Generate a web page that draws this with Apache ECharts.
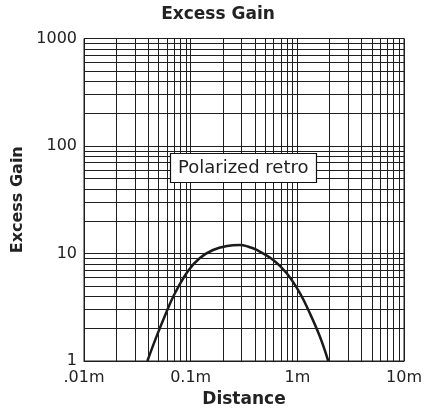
<!DOCTYPE html>
<html><head><meta charset="utf-8">
<script src="https://cdn.jsdelivr.net/npm/echarts@6/dist/echarts.min.js"></script>
<style>html,body{margin:0;padding:0;background:#fff}#c{width:436px;height:414px}</style>
</head><body><div id="c"></div>
<script>
const distances = [0.0393,0.0473,0.0575,0.0698,0.0944,0.122,0.162,0.219,0.29,0.344,0.416,0.595,0.795,1.06,1.31,1.63,1.95];
const gains     = [1,1.64,2.65,4.11,6.88,9.08,10.78,11.75,12.0,11.6,10.8,8.7,6.54,4.26,2.78,1.68,1];
const xTickLabels = ['.01m','0.1m','1m','10m'];
const yTickLabels = ['1','10','100','1000'];
const xDecades = [0.01,0.1,1];
const yDecades = [1,10,100];
const minorMultipliers = [2,3,4,5,6,7,8,9];

const FONT = 'DejaVu Sans';
const lineCol = '#1e1e1e';

const xMinor = [], yMinor = [];
xDecades.forEach(d => minorMultipliers.forEach(m => xMinor.push({xAxis: m*d})));
yDecades.forEach(d => minorMultipliers.forEach(m => yMinor.push({yAxis: m*d})));

const chart = echarts.init(document.getElementById('c'), null, {renderer:'canvas'});
chart.setOption({
  animation:false,
  backgroundColor:'#fff',
  title:[
    {text:'Excess Gain', left:'center', top:1,
     textStyle:{fontFamily:FONT, fontSize:17, fontWeight:'bold', color:'#222'}},
    {text:'Polarized retro', left:170, top:153, padding:[6,8],
     backgroundColor:'#fff', borderColor:'#111', borderWidth:1.2,
     textStyle:{fontFamily:FONT, fontSize:18, fontWeight:'normal', color:'#222', lineHeight:18}}
  ],
  grid:{left:84, right:32, top:38.5, bottom:53, show:true, borderColor:lineCol, borderWidth:1, backgroundColor:'#fff'},
  xAxis:{
    type:'log', logBase:10, min:0.01, max:10,
    name:'Distance', nameLocation:'middle', nameGap:28,
    nameTextStyle:{fontFamily:FONT, fontSize:17, fontWeight:'bold', color:'#222'},
    axisLine:{show:true, lineStyle:{color:lineCol, width:1}},
    axisTick:{show:false},
    axisLabel:{fontFamily:FONT, fontSize:16, color:'#222', margin:9,
      formatter:v => xTickLabels[Math.round(Math.log10(v))+2] || ''},
    splitLine:{show:true, lineStyle:{color:lineCol, width:1}},
    minorTick:{show:false}, minorSplitLine:{show:false}
  },
  yAxis:{
    type:'log', logBase:10, min:1, max:1000,
    name:'Excess Gain', nameLocation:'middle', nameGap:55,
    nameTextStyle:{fontFamily:FONT, fontSize:16, fontWeight:'bold', color:'#222'},
    axisLine:{show:true, lineStyle:{color:lineCol, width:1}},
    axisTick:{show:false},
    axisLabel:{fontFamily:FONT, fontSize:16, color:'#222', margin:7,
      formatter:v => yTickLabels[Math.round(Math.log10(v))] || ''},
    splitLine:{show:true, lineStyle:{color:lineCol, width:1}},
    minorTick:{show:false}, minorSplitLine:{show:false}
  },
  series:[
    {type:'line', name:'grid', data:[], z:1, silent:true,
     markLine:{silent:true, symbol:['none','none'], label:{show:false}, animation:false,
       lineStyle:{color:lineCol, width:1, type:'solid'},
       emphasis:{disabled:true},
       data:xMinor.concat(yMinor)}},
    {type:'line', name:'Polarized retro', z:3, smooth:0.4, symbol:'none',
     lineStyle:{color:'#1a1a1a', width:2.5},
     data:distances.map((d,i)=>[d, gains[i]])}
  ]
});
</script></body></html>
